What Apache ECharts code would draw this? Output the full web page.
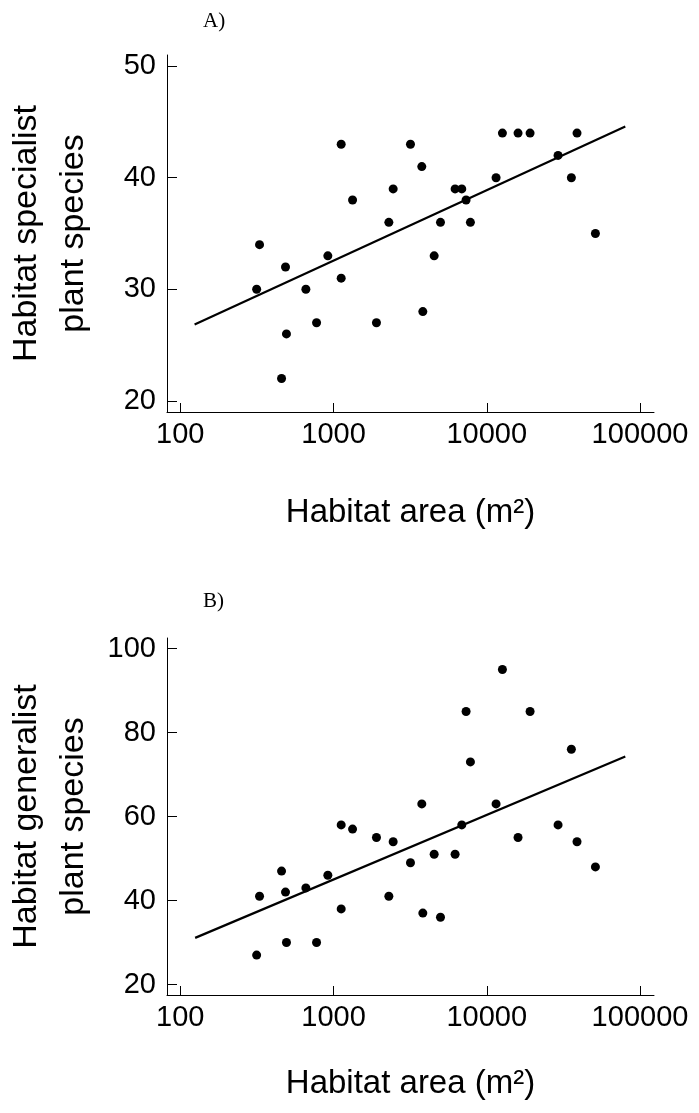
<!DOCTYPE html>
<html>
<head>
<meta charset="utf-8">
<script src="https://cdn.jsdelivr.net/npm/echarts@6/dist/echarts.min.js"></script>
<style>
  html, body { margin: 0; padding: 0; background: #ffffff; }
  #chart { width: 699px; height: 1113px; }
</style>
</head>
<body>
<div id="chart"></div>
<script>
// ---- data ----
const habitatArea = [315, 329, 486, 493, 458, 660, 775, 918, 1122, 1122, 1331, 1906, 2296, 2450, 3178, 3767, 3826, 4537, 4989, 6214, 6870, 7328, 7822, 11500, 12650, 16000, 19170, 29190, 35650, 38810, 51170];
const specialistSpecies = [30, 34, 32, 26, 22, 30, 27, 33, 43, 31, 38, 27, 36, 39, 43, 41, 28, 33, 36, 39, 39, 38, 36, 40, 44, 44, 44, 42, 40, 44, 35];
const generalistSpecies = [27, 41, 42, 30, 47, 43, 30, 46, 58, 38, 57, 55, 41, 54, 49, 63, 37, 51, 36, 51, 58, 85, 73, 63, 95, 55, 85, 58, 76, 54, 48];

// regression line end points
const fitAreaA = [124, 80170];
const fitSpecialist = [26.84, 44.6];
const fitAreaB = [125, 80170];
const fitGeneralist = [31.1, 74.3];

// tick labels
const xTicks = [100, 1000, 10000, 100000];
const yTicksA = [20, 30, 40, 50];
const yTicksB = [20, 40, 60, 80, 100];

const panelLabels = ['A)', 'B)'];
const xTitle = 'Habitat area (m²)';
const yTitleA = 'Habitat specialist\nplant species';
const yTitleB = 'Habitat generalist\nplant species';

// ---- build chart ----
const FONT = "'Liberation Sans', Arial, sans-serif";
const SERIF = "'Liberation Serif', 'Times New Roman', serif";
const pairs = (xs, ys) => xs.map((x, i) => [x, ys[i]]);

function xAxisCfg(gridIndex, gap) {
  return {
    type: 'log', logBase: 10, gridIndex,
    min: 81.9, max: 123400,
    name: xTitle, nameLocation: 'middle', nameGap: gap,
    nameTextStyle: { fontFamily: FONT, fontSize: 33, color: '#000' },
    axisLine: { show: true, lineStyle: { color: '#000', width: 1 } },
    axisTick: { show: true, inside: true, length: 9, customValues: xTicks, lineStyle: { color: '#000' } },
    axisLabel: { customValues: xTicks, fontFamily: FONT, fontSize: 29, color: '#000', margin: 8,
                 formatter: v => String(Math.round(v)) },
    splitLine: { show: false }, minorTick: { show: false }
  };
}
function yAxisCfg(gridIndex, min, max, ticks, name) {
  return {
    type: 'value', gridIndex, min, max,
    name, nameLocation: 'middle', nameRotate: 90, nameGap: 70,
    nameTextStyle: { fontFamily: FONT, fontSize: 34, color: '#000', lineHeight: 47, align: 'center' },
    axisLine: { show: true, lineStyle: { color: '#000', width: 1 } },
    axisTick: { show: true, inside: true, length: 10, customValues: ticks, lineStyle: { color: '#000' } },
    axisLabel: { customValues: ticks, fontFamily: FONT, fontSize: 29, color: '#000', margin: 11 },
    splitLine: { show: false }
  };
}

const chart = echarts.init(document.getElementById('chart'), null, { renderer: 'canvas' });
chart.setOption({
  backgroundColor: '#ffffff',
  animation: false,
  title: [
    { text: panelLabels[0], left: 203, top: 11, padding: 0,
      textStyle: { fontFamily: SERIF, fontSize: 21, fontWeight: 'normal', color: '#000' } },
    { text: panelLabels[1], left: 203, top: 591, padding: 0,
      textStyle: { fontFamily: SERIF, fontSize: 21, fontWeight: 'normal', color: '#000' } }
  ],
  grid: [
    { left: 167, top: 55, width: 487, height: 357, outerBoundsMode: 'none', containLabel: false },
    { left: 167, top: 638, width: 487, height: 357, outerBoundsMode: 'none', containLabel: false }
  ],
  xAxis: [xAxisCfg(0, 84), xAxisCfg(1, 72)],
  yAxis: [
    yAxisCfg(0, 19, 51, yTicksA, yTitleA),
    yAxisCfg(1, 17.5, 102.5, yTicksB, yTitleB)
  ],
  series: [
    { type: 'scatter', xAxisIndex: 0, yAxisIndex: 0, data: pairs(habitatArea, specialistSpecies),
      symbol: 'circle', symbolSize: 9, itemStyle: { color: '#000', opacity: 1 } },
    { type: 'line', xAxisIndex: 0, yAxisIndex: 0, data: pairs(fitAreaA, fitSpecialist),
      symbol: 'none', lineStyle: { color: '#000', width: 2.2 } },
    { type: 'scatter', xAxisIndex: 1, yAxisIndex: 1, data: pairs(habitatArea, generalistSpecies),
      symbol: 'circle', symbolSize: 9, itemStyle: { color: '#000', opacity: 1 } },
    { type: 'line', xAxisIndex: 1, yAxisIndex: 1, data: pairs(fitAreaB, fitGeneralist),
      symbol: 'none', lineStyle: { color: '#000', width: 2.2 } }
  ]
});
</script>
</body>
</html>
